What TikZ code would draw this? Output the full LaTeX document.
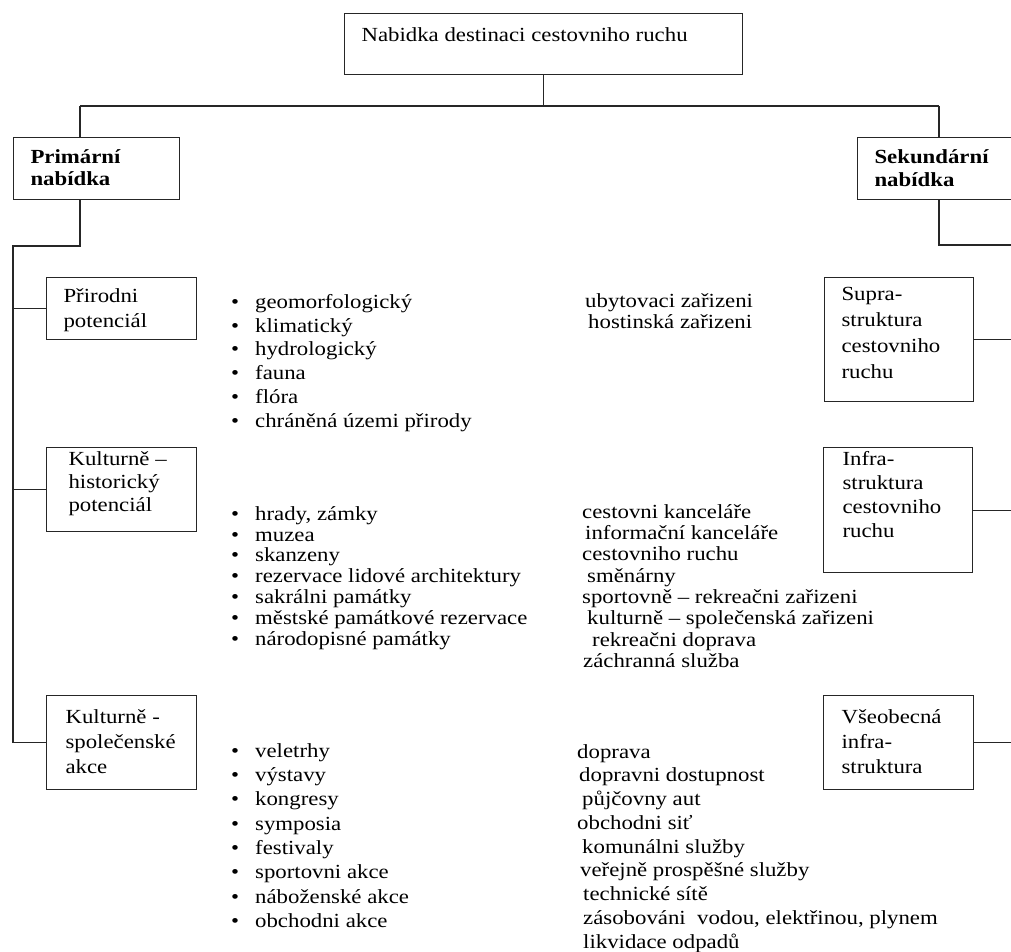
\documentclass[tikz,border=0pt]{standalone}
\usepackage{fontspec}
\setmainfont{Liberation Serif}[FakeStretch=1.14]
\newcommand{\obsah}[5]{\hspace*{#1}\parbox[t]{#2}{\raggedright\hyphenpenalty=10000 \rule{0pt}{#3}#5\rule[-#4]{0pt}{#4}}}
\newcommand{\hore}[1]{\rule{0pt}{#1}}
\newcommand{\odr}{\makebox[24pt][l]{\textbullet}}

\tikzset{
  ramec/.style={draw=black!85, line width=1.1pt, anchor=north west, inner sep=0pt, font=\fontsize{20}{#1}\selectfont},
  ramec/.default=23,
  seznam/.style={anchor=north west, inner sep=0pt, align=left, font=\fontsize{20}{#1}\selectfont},
  spoj/.style={draw=black!85, line width=1.1pt}
}

\begin{document}
\begin{tikzpicture}[x=1pt,y=-1pt]
\useasboundingbox (0,0) rectangle (1011,952);
\clip (0,0) rectangle (1011,952);

\node(nab)[ramec] at (344,13) {\obsah{17pt}{381pt}{28pt}{33pt}{Nabidka destinaci cestovniho ruchu}};
\node(prim)[ramec=22] at (13,137) {\bfseries\obsah{17pt}{149pt}{26pt}{14pt}{Primární\\nabídka}};
\node(sek)[ramec=23] at (857,137) {\bfseries\obsah{17pt}{163pt}{26pt}{13pt}{Sekundární\\nabídka}};

\node(pp)[ramec=25] at (46,277) {\obsah{17pt}{133pt}{25pt}{12pt}{Přirodni\\potenciál}};
\node(kh)[ramec=23] at (46,447) {\obsah{22pt}{128pt}{18pt}{20pt}{Kulturně –\\historický\\potenciál}};
\node(ks)[ramec=25] at (46,695) {\obsah{19pt}{131pt}{28pt}{16pt}{Kulturně -\\společenské\\akce}};

\node(supra)[ramec=26] at (824,277) {\obsah{17pt}{132pt}{23pt}{23pt}{Supra-\\struktura\\cestovniho\\ruchu}};
\node(infra)[ramec=24] at (823,447) {\obsah{19pt}{130pt}{18pt}{35pt}{Infra-\\struktura\\cestovniho\\ruchu}};
\node(vseob)[ramec=25] at (823,695) {\obsah{18pt}{132pt}{28pt}{16pt}{Všeobecná\\infra-\\struktura}};

\node(s1)[seznam=23.8] at (231,290) {\hore{18pt}\odr geomorfologický\\\odr klimatický\\\odr hydrologický\\\odr fauna\\\odr flóra\\\odr chráněná územi přirody};
\node(s2)[seznam=20.8] at (231,502) {\hore{18pt}\odr hrady, zámky\\\odr muzea\\\odr skanzeny\\\odr rezervace lidové architektury\\\odr sakrálni památky\\\odr městské památkové rezervace\\\odr národopisné památky};
\node(s3)[seznam=24.3] at (231,739) {\hore{18pt}\odr veletrhy\\\odr výstavy\\\odr kongresy\\\odr symposia\\\odr festivaly\\\odr sportovni akce\\\odr náboženské akce\\\odr obchodni akce};

\node(r1)[seznam=21] at (585,289) {\hore{18pt}ubytovaci zařizeni\\\hspace*{3pt}hostinská zařizeni};
\node(r2)[seznam=21.3] at (582,500) {\hore{18pt}cestovni kanceláře\\\hspace*{3pt}informační kanceláře\\cestovniho ruchu\\\hspace*{5pt}směnárny\\sportovně – rekreačni zařizeni\\\hspace*{5pt}kulturně – společenská zařizeni\\\hspace*{10pt}rekreačni doprava\\\hspace*{1pt}záchranná služba};
\node(r3)[seznam=23.75] at (577,740) {\hore{18pt}doprava\\\hspace*{2pt}dopravni dostupnost\\\hspace*{5pt}půjčovny aut\\obchodni siť\\\hspace*{5pt}komunálni služby\\\hspace*{3pt}veřejně prospěšné služby\\\hspace*{6pt}technické sítě\\\hspace*{6pt}zásobováni\ \ vodou, elektřinou, plynem\\\hspace*{6pt}likvidace odpadů};

\coordinate(uzelL) at (80,106);
\coordinate(uzelR) at (939,106);
\coordinate(ohybL) at (80,246);
\coordinate(pater) at (13,246);
\coordinate(ohybR) at (939,245);
\coordinate(okraj) at (1011,0);

\draw[spoj] (nab.south) -- (nab.south |- uzelL);
\draw[spoj] (uzelL) -- (uzelR);
\draw[spoj] (uzelL) -- (uzelL |- prim.north);
\draw[spoj] (uzelR) -- (uzelR |- sek.north);
\draw[spoj] (ohybL |- prim.south) -- (ohybL) -- (pater) -- (pater |- ks.west) -- (ks.west);
\draw[spoj] (pater |- pp.west) -- (pp.west);
\draw[spoj] (pater |- kh.west) -- (kh.west);
\draw[spoj] (ohybR |- sek.south) -- (ohybR) -- (ohybR -| okraj);
\draw[spoj] (supra.east) -- (supra.east -| okraj);
\draw[spoj] (infra.east) -- (infra.east -| okraj);
\draw[spoj] (vseob.east) -- (vseob.east -| okraj);
\end{tikzpicture}
\end{document}
